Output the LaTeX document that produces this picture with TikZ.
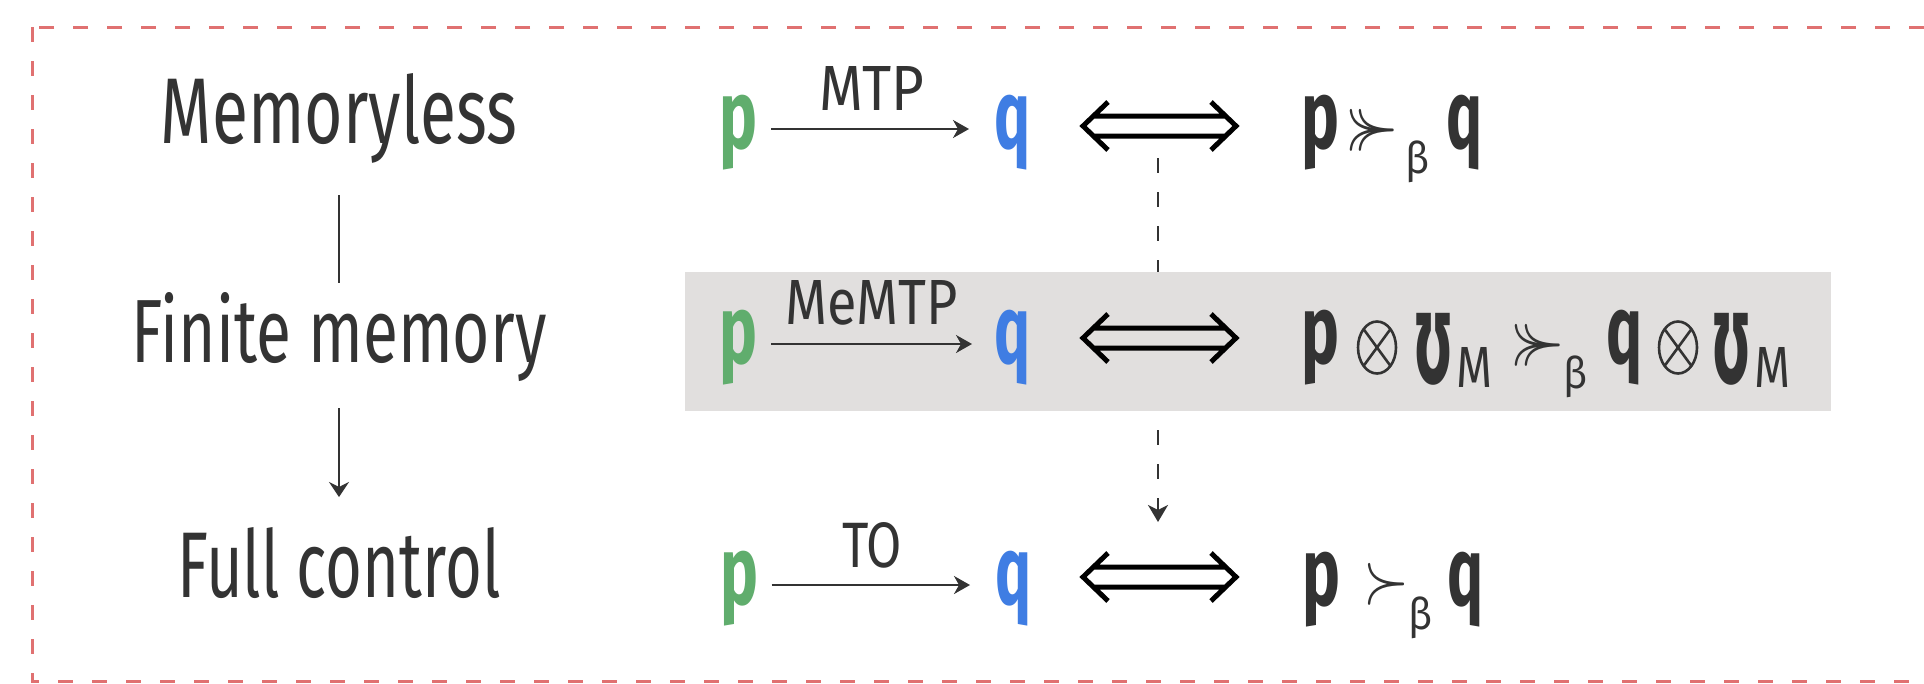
\documentclass[tikz,border=0pt]{standalone}
\usepackage{fontspec}
\setmainfont{Fira Sans}
\newfontfamily\djv{DejaVu Sans}
\usepackage{graphicx}
\usetikzlibrary{arrows.meta,shapes.geometric}
\definecolor{ink}{HTML}{333333}
\definecolor{pgreen}{HTML}{60AD6D}
\definecolor{qblue}{HTML}{3F7DE3}
\definecolor{bordred}{HTML}{E07171}
\definecolor{boxgray}{HTML}{E1DFDE}
\newcommand{\fitH}[3]{\resizebox{#1}{#2}{#3}}
\newcommand{\fitT}[3]{\resizebox*{#1}{#2}{#3}}
\newcommand{\Pg}{\fitT{38pt}{75pt}{\bfseries p}}
\newcommand{\Qg}{\fitT{36pt}{75pt}{\bfseries q}}
\newcommand{\Ups}{\fitT{42pt}{72pt}{\djv\bfseries ʊ}}
\newcommand{\Sub}{\fitH{36pt}{40pt}{M}}
\newcommand{\Gsucc}{\fitT{54pt}{42pt}{$\mathrel{\succ\mkern-11mu\succ}$}}
\newcommand{\Ssucc}{\fitT{46pt}{42pt}{$\succ$}}
\newcommand{\Bet}{\fitT{24pt}{42pt}{β}}
\tikzset{
  iffsym/.pic={
    \draw[line width=5pt, line cap=butt, line join=miter, black]
      (-51.5,-24) -- (-76.5,0) -- (-51.5,24)
      (51.5,-24) -- (76.5,0) -- (51.5,24)
      (-66,-10) -- (66,-10)
      (-66,10) -- (66,10);
  }
}
\begin{document}
\begin{tikzpicture}[x=1pt,y=-1pt,
  every node/.style={inner sep=0pt,outer sep=0pt,text=ink,font=\fontsize{40}{48}\selectfont},
  greenp/.style={text=pgreen},
  blueq/.style={text=qblue},
  otimes/.style={ellipse, draw=ink, line width=2.6pt, minimum width=38pt, minimum height=52pt,
    path picture={\draw[ink, line width=2.6pt]
      (path picture bounding box.north west) -- (path picture bounding box.south east)
      (path picture bounding box.north east) -- (path picture bounding box.south west);}},
  border/.style={draw=bordred, line width=3pt, dash pattern=on 15pt off 19pt},
  mapto/.style={draw=ink, line width=2pt, -{Stealth[length=16pt,width=18pt,inset=5pt]}},
  plainline/.style={draw=ink, line width=1.7pt},
  downarrow/.style={draw=ink, line width=1.7pt, -{Stealth[length=15pt,width=20pt,inset=5pt]}},
  dasharrow/.style={draw=ink, line width=2pt, dash pattern=on 15pt off 19pt, -{Stealth[length=17pt,width=20pt,inset=5pt]}}
]
\useasboundingbox (0,0) rectangle (1924,683);
\clip (0,0) rectangle (1924,683);
\fill[white] (0,0) rectangle (1924,683);

% dashed frame
\draw[border] (32,27) -- (32,681) -- (1990,681) -- (1990,27) -- cycle;

% vertical dashed implication (behind the grey box)
\coordinate (iffA) at (1158,126);
\coordinate (iffC) at (1158,577);
\draw[dasharrow] ([yshift=-32pt]iffA) -- ([yshift=55pt]iffC);

% grey band
\fill[boxgray] (685,272) rectangle (1831,411);

% left column
\node[anchor=base] (mem) at (339,143) {\fitH{356pt}{70pt}{Memoryless}};
\node[anchor=base] (fin) at (339,362) {\fitH{415pt}{70pt}{Finite memory}};
\node[anchor=base] (ful) at (339,597) {\fitH{323pt}{70pt}{Full control}};
\draw[plainline] ([yshift=-52pt]mem.base) -- ([yshift=79pt]fin.base);
\draw[downarrow] ([yshift=-46pt]fin.base) -- ([yshift=100pt]ful.base);

% row 1
\node[greenp] (p1) at (738.5,132.5) {\Pg};
\node[blueq] (q1) at (1012,132.5) {\Qg};
\draw[mapto, shorten <=13.5pt, shorten >=25pt] ([yshift=3.5pt]p1.east) -- ([yshift=3.5pt]q1.west)
  node[pos=0.482, above=19pt] (l1) {\fitH{105pt}{44pt}{MTP}};
\pic at (1159.5,126) {iffsym};
\node (rp1) at (1320.5,132.5) {\Pg};
\node (rel1) at (1372,130) {\Gsucc};
\node (b1) at (1417,162) {\Bet};
\node (rq1) at (1464,132.5) {\Qg};

% row 2
\node[greenp] (p2) at (738.5,347.5) {\Pg};
\node[blueq] (q2) at (1012,347.5) {\Qg};
\draw[mapto, shorten <=13.5pt, shorten >=22pt] ([yshift=3.5pt]p2.east) -- ([yshift=3.5pt]q2.west)
  node[pos=0.482, above=19pt] (l2) {\fitH{172pt}{44pt}{MeMTP}};
\pic at (1159.5,338) {iffsym};
\node (rp2) at (1320.5,347.5) {\Pg};
\node[otimes] (ot1) at (1377,347.5) {};
\node (u1) at (1433,349) {\Ups};
\node (m1) at (1474,367.5) {\Sub};
\node (rel2) at (1537.5,345.5) {\Gsucc};
\node (b2) at (1575,377) {\Bet};
\node (rq2) at (1624,347.5) {\Qg};
\node[otimes] (ot2) at (1678,347.5) {};
\node (u2) at (1731,349) {\Ups};
\node (m2) at (1772,367.5) {\Sub};

% row 3
\node[greenp] (p3) at (739,588.5) {\Pg};
\node[blueq] (q3) at (1013,588.5) {\Qg};
\draw[mapto, shorten <=13.5pt, shorten >=25pt] ([yshift=3.5pt]p3.east) -- ([yshift=3.5pt]q3.west)
  node[pos=0.482, above=17pt] (l3) {\fitH{60pt}{45pt}{TO}};
\pic at (1159.5,577) {iffsym};
\node (rp3) at (1321.5,589.5) {\Pg};
\node (rel3) at (1386,584) {\Ssucc};
\node (b3) at (1420.5,618) {\Bet};
\node (rq3) at (1465,589.5) {\Qg};
\end{tikzpicture}
\end{document}
